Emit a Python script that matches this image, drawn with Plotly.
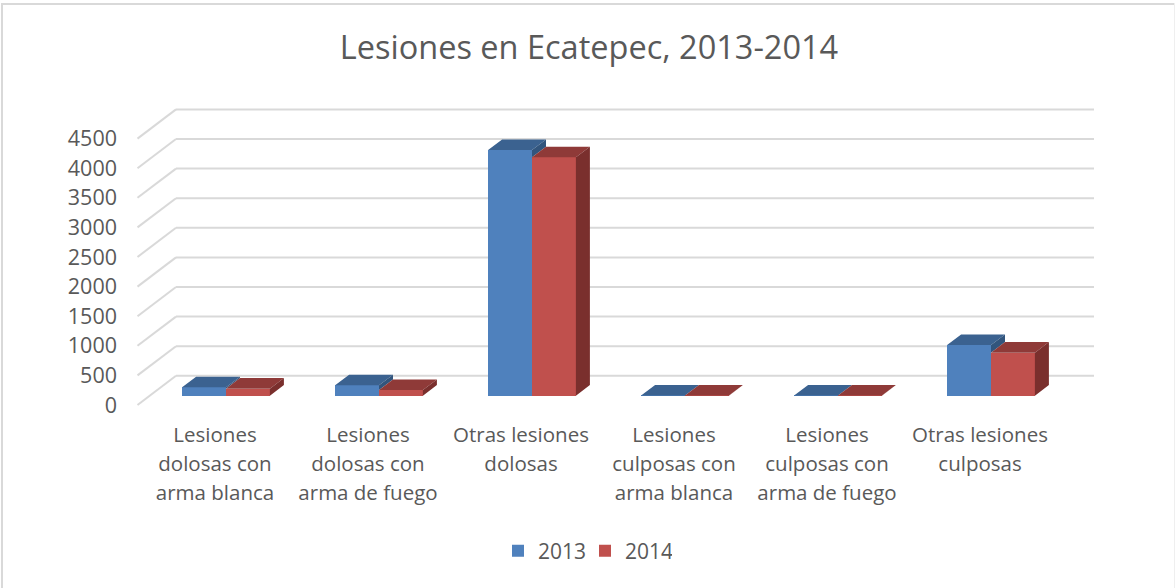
import plotly.graph_objects as go

categories = ["Lesiones<br>dolosas con<br>arma blanca", "Lesiones<br>dolosas con<br>arma de fuego", "Otras lesiones<br>dolosas",
              "Lesiones<br>culposas con<br>arma blanca", "Lesiones<br>culposas con<br>arma de fuego", "Otras lesiones<br>culposas"]
values_2013 = [142, 176, 4150, 3, 2, 856]
values_2014 = [118, 96, 4027, 2, 3, 726]
y_ticks = [0, 500, 1000, 1500, 2000, 2500, 3000, 3500, 4000, 4500]

W, H = 1175, 588
X0, XS = 214.0, 153.0      # px of category 0 on the front plane, px per category
Y0, YS = 405.0, 29.6 / 500  # px of value 0 on the front plane, px per unit
WALL_DX, WALL_DY = 38.5 / XS, 29.2 / YS
BAR_W = 43.9 / XS
BAR_SHIFT = 12.0 / XS
BAR_BASE = 9.3 / YS
BAR_DX, BAR_DY = 14.0 / XS, 10.6 / YS

GRID = "#D9D9D9"
TEXT = "#595959"
FONT = "Open Sans"
C13 = dict(front="#4F81BD", top="#3B6290", side="#32557D")
C14 = dict(front="#C0504D", top="#8F3A38", side="#7A2F2D")

xs = list(range(len(categories)))
x13 = [i + BAR_SHIFT - BAR_W / 2 for i in xs]
x14 = [i + BAR_SHIFT + BAR_W / 2 for i in xs]


def sized(label, px=20.5):
    return "<br>".join(f'<span style="font-size:{px}px">{part}</span>' for part in label.split("<br>"))


def poly_trace(polys, color):
    px, py = [], []
    for p in polys:
        px += [a for a, _ in p] + [p[0][0], None]
        py += [b for _, b in p] + [p[0][1], None]
    return go.Scatter(x=px, y=py, mode="lines", fill="toself", fillcolor=color,
                      line=dict(width=0, color=color), showlegend=False, hoverinfo="skip")


def top_faces(centers, vals):
    out = []
    for c, v in zip(centers, vals):
        l, r, t = c - BAR_W / 2, c + BAR_W / 2, BAR_BASE + v
        out.append([(l, t), (r, t), (r + BAR_DX, t + BAR_DY), (l + BAR_DX, t + BAR_DY)])
    return out


def side_faces(centers, vals, lower):
    out = []
    for c, v, lo in zip(centers, vals, lower):
        r = c + BAR_W / 2
        t, b = BAR_BASE + v, BAR_BASE + lo
        if t > b:
            out.append([(r, t), (r + BAR_DX, t + BAR_DY), (r + BAR_DX, b + BAR_DY), (r, b)])
    return out


fig = go.Figure()
fig.add_trace(go.Bar(x=x13, y=values_2013, base=BAR_BASE, width=BAR_W, name="2013",
                     marker=dict(color=C13["front"], line=dict(width=0))))
fig.add_trace(go.Bar(x=x14, y=values_2014, base=BAR_BASE, width=BAR_W, name="2014",
                     marker=dict(color=C14["front"], line=dict(width=0))))
fig.add_trace(poly_trace(top_faces(x13, values_2013), C13["top"]))
fig.add_trace(poly_trace(side_faces(x13, values_2013, values_2014), C13["side"]))
fig.add_trace(poly_trace(top_faces(x14, values_2014), C14["top"]))
fig.add_trace(poly_trace(side_faces(x14, values_2014, [0] * 6), C14["side"]))

shapes = []
xl = -0.5
xr = len(categories) - 0.5
for v in y_ticks:
    line = dict(color=GRID, width=2)
    shapes.append(dict(type="line", xref="x", yref="y", layer="below", x0=xl, y0=v,
                       x1=xl + WALL_DX, y1=v + WALL_DY, line=line))
    shapes.append(dict(type="line", xref="x", yref="y", layer="below", x0=xl + WALL_DX, y0=v + WALL_DY,
                       x1=xr + WALL_DX, y1=v + WALL_DY, line=line))
for x0, y0, x1, y1, wid, col in [(2, 3, 2, H, 2, GRID), (1, 4, W, 4, 2, GRID), (W - 0.5, 3, W - 0.5, H, 1, "#EFEFEF")]:
    shapes.append(dict(type="line", xref="paper", yref="paper", layer="below", x0=x0 / W, x1=x1 / W,
                       y0=1 - y0 / H, y1=1 - y1 / H, line=dict(color=col, width=wid)))

fig.update_layout(
    width=W, height=H, margin=dict(l=0, r=0, t=0, b=0), autosize=False,
    paper_bgcolor="white", plot_bgcolor="white", barmode="overlay", bargap=0,
    font=dict(family=FONT, color=TEXT),
    title=dict(text="Lesiones en Ecatepec, 2013-2014", x=589 / W, xanchor="center", y=1 - 48 / H, yanchor="middle",
               font=dict(family=FONT, size=32.5, color=TEXT)),
    xaxis=dict(domain=[0, 1], range=[(0 - X0) / XS, (W - X0) / XS], tickmode="array", tickvals=xs,
               ticktext=[sized(c) for c in categories], ticklabelshift=1,
               anchor="free", position=1 - 419 / H, showgrid=False, zeroline=False, showline=False, ticks="",
               tickfont=dict(family=FONT, size=22.3, color=TEXT), tickangle=0),
    yaxis=dict(domain=[0, 1], range=[(Y0 - H) / YS, Y0 / YS], tickmode="array", tickvals=y_ticks,
               anchor="free", position=117 / W, showgrid=False, zeroline=False, showline=False, ticks="",
               tickfont=dict(family=FONT, size=21.5, color=TEXT), ticklabelshift=0),
    legend=dict(orientation="h", x=498 / W, xanchor="left", y=1 - 551 / H, yanchor="middle",
                entrywidth=42, entrywidthmode="pixels",
                font=dict(family=FONT, size=21, color=TEXT), bgcolor="rgba(0,0,0,0)"),
    shapes=shapes,
)

fig.write_html("out.html", post_script="document.body.style.margin='0';", config=dict(displayModeBar=False))
